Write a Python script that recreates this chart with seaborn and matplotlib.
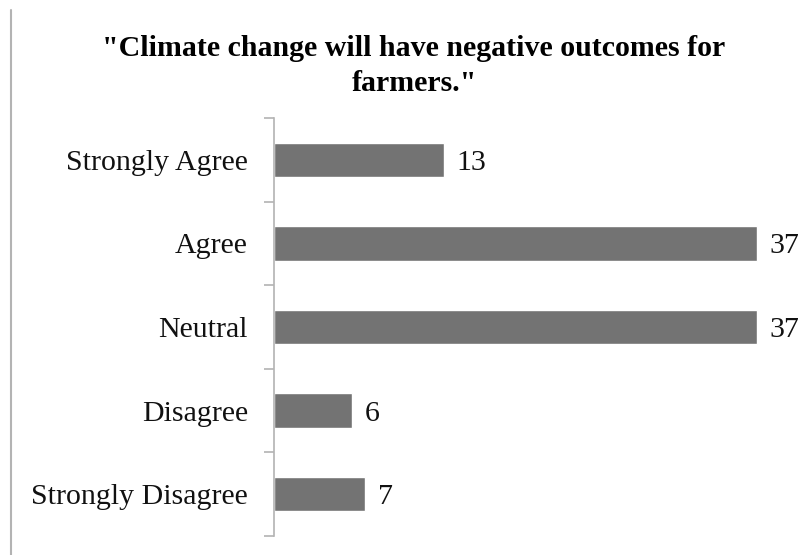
import matplotlib
matplotlib.use("Agg")
import matplotlib.pyplot as plt
from matplotlib.lines import Line2D
import seaborn as sns
import pandas as pd

categories = ["Strongly Agree", "Agree", "Neutral", "Disagree", "Strongly Disagree"]
counts = [13, 37, 37, 6, 7]
title = '"Climate change will have negative outcomes for\nfarmers."'

sns.set_theme(style="white")
plt.rcParams["font.family"] = ["Liberation Serif", "DejaVu Serif"]

df = pd.DataFrame({"response": categories, "count": counts})

fig = plt.figure(figsize=(8.04, 5.55), dpi=100)
ax = fig.add_axes([274 / 804, 1 - 536 / 555, (796 - 274) / 804, (536 - 118) / 555])

sns.barplot(data=df, x="count", y="response", orient="h", color="#737373",
            saturation=1, width=0.41, ax=ax, order=categories)

ax.set_xlim(0, 40)
ax.set_ylim(len(categories) - 0.5, -0.5)
ax.set_xlabel("")
ax.set_ylabel("")
ax.set_xticks([])

# tick marks sit on category boundaries, labels centred on the bars
ax.set_yticks(range(len(categories)))
ax.set_yticklabels(categories, fontsize=21.5, color="#111111")
ax.tick_params(axis="y", which="major", length=0, pad=18.7)
ax.set_yticks([i - 0.5 for i in range(len(categories) + 1)], minor=True)
ax.tick_params(axis="y", which="minor", length=7, width=1.2, color="#b3b3b3", left=True)
for lbl in ax.get_yticklabels():
    lbl.set_verticalalignment("center_baseline")

for side in ["top", "right", "bottom"]:
    ax.spines[side].set_visible(False)
ax.spines["left"].set_color("#b3b3b3")
ax.spines["left"].set_linewidth(1.2)

for i, v in enumerate(counts):
    ax.text(v + 0.95, i, str(v), va="center_baseline", ha="left", fontsize=21.5,
            color="#111111")

fig.text(0.515, 1 - 66 / 555, title, ha="center", va="center", fontsize=21.5,
         fontweight="bold", linespacing=1.42, color="#000000")

fig.add_artist(Line2D([11 / 804, 11 / 804], [0, 1 - 10 / 555],
                      transform=fig.transFigure, color="#b3b3b3", linewidth=1.5))

fig.savefig("out.png", dpi=100)
